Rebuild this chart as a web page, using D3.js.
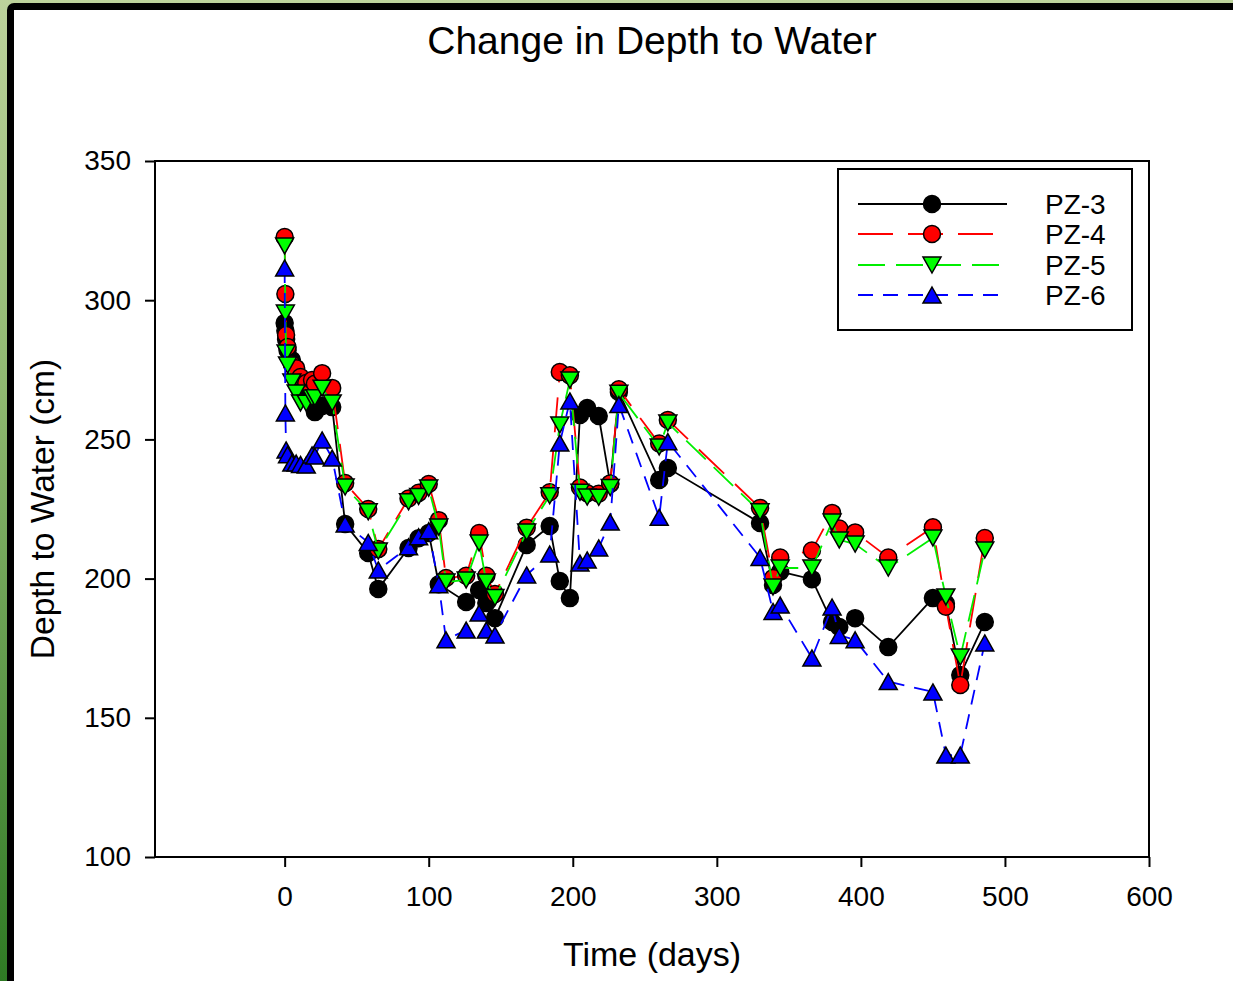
<!DOCTYPE html>
<html><head><meta charset="utf-8">
<script src="https://cdn.jsdelivr.net/npm/d3@7/dist/d3.min.js"></script>
<style>
html,body{margin:0;padding:0;}
body{width:1233px;height:981px;overflow:hidden;background:linear-gradient(to bottom,#bdd39c 0%,#8fb870 40%,#2f7a24 100%);}
svg{display:block;}
text{font-family:"Liberation Sans",Arial,sans-serif;fill:#000;}
</style></head>
<body>
<svg id="chart" width="1233" height="981"></svg>
<script>
const days = [0,0.5,1,2,5,8,11,15,19,21,26,33,42,58,65,86,93,100,107,112,126,135,140,146,168,184,191,198,205,210,218,226,232,260,266,330,339,344,366,380,385,396,419,450,459,469,486];
const pz3 = [291.8,289,286,282,278.5,274,270,266,264,259.8,262,261.6,219.6,209.2,196.3,211,214.5,216.4,198,null,191.6,195.9,191.2,185.8,212.1,218.9,199.1,193.0,258.8,261.3,258.4,234,267,235.4,239.7,220.0,197.7,202.5,199.8,184.4,182.6,185.8,175.4,193.0,191,165.4,184.4];
const pz4 = [322.7,302.2,287.5,283.2,277,275.6,272.4,270.3,271.3,270,273.8,268.5,234.3,225,210.6,228.8,230.8,234,221,200.2,201,216.4,201,194.5,218.3,231,274.2,273,232.7,230.7,230.5,234.2,268,248.5,257,225.4,200.2,207.6,210.1,223.6,218,216.6,207.6,218.4,189.9,161.8,214.6];
const pz5 = [319.5,295.4,281.0,276.7,270.6,266.7,263.1,263,264.9,265,268.4,263.1,232.9,224,209.9,227.6,229.5,232.5,218.5,198.8,199.5,212.8,198.8,193.2,216.7,229.8,255.2,271.3,231,229.3,229.2,232.7,266.6,247.3,255.9,224,197,203.8,203.8,220.3,213.9,212.4,203.8,214.6,193.4,171.8,210.3];
const pz6 = [311.6,259.5,246.2,244.5,241.5,241.5,241,240.8,244.4,244,249.8,243.3,219.6,213,203.1,211.4,215,217.2,197.8,178,181.5,187.6,181.5,179.7,201.3,208.8,248.7,263.8,205.6,206.7,211,220.3,262.5,222,249.2,207.6,188.2,190.5,171.5,189.8,179.6,178,163,159.3,136.6,136.6,176.9];
const seriesNames = ["PZ-3","PZ-4","PZ-5","PZ-6"];
const xTicks = [0,100,200,300,400,500,600];
const yTicks = [100,150,200,250,300,350];

const styles = [
  {color:"#000000", fill:"#000000", dash:null, symbol:"circle"},
  {color:"#ff0000", fill:"#ff0000", dash:"35,15", symbol:"circle"},
  {color:"#00ee00", fill:"#00ff00", dash:"27,11", symbol:"down"},
  {color:"#0000ff", fill:"#0000ff", dash:"15,10", symbol:"up"}
];
const allValues = [pz3,pz4,pz5,pz6];

const svg = d3.select("#chart");
// frame
svg.append("rect").attr("x",7).attr("y",3).attr("width",1300).attr("height",1100).attr("rx",7).attr("fill","#000");
svg.append("rect").attr("x",14).attr("y",10).attr("width",1300).attr("height",1100).attr("fill","#fff");

const L=155,R=1149,T=161,B=857;
const x = d3.scaleLinear().domain([-90,600]).range([L,R]);
const y = d3.scaleLinear().domain([100,350]).range([B,T]);

svg.append("text").attr("x",652).attr("y",54).attr("text-anchor","middle").attr("font-size",39).text("Change in Depth to Water");
svg.append("text").attr("x",652).attr("y",966).attr("text-anchor","middle").attr("font-size",34).text("Time (days)");
svg.append("text").attr("transform","translate(54,509) rotate(-90)").attr("text-anchor","middle").attr("font-size",33.5).text("Depth to Water (cm)");

const xAxis = svg.append("g").attr("transform",`translate(0,${B})`)
  .call(d3.axisBottom(x).tickValues(xTicks).tickSize(10).tickSizeOuter(0).tickPadding(19).tickFormat(d3.format("d")));
const yAxis = svg.append("g").attr("transform",`translate(${L},0)`)
  .call(d3.axisLeft(y).tickValues(yTicks).tickSize(10).tickSizeOuter(0).tickPadding(14).tickFormat(d3.format("d")));
[xAxis,yAxis].forEach(a=>{
  a.select(".domain").remove();
  a.selectAll(".tick line").attr("stroke","#000").attr("stroke-width",2);
  a.selectAll(".tick text").attr("font-size",28).attr("font-family","Liberation Sans, Arial, sans-serif").attr("fill","#000");
});
svg.append("rect").attr("x",L).attr("y",T).attr("width",R-L).attr("height",B-T).attr("fill","none").attr("stroke","#000").attr("stroke-width",2);

function symbolPath(sym){
  if(sym==="up") return "M0,-8L9,8L-9,8Z";
  if(sym==="down") return "M0,8L9,-8L-9,-8Z";
  return null;
}
function drawMarker(g, sym, fill, cx, cy){
  if(sym==="circle"){
    g.append("circle").attr("cx",cx).attr("cy",cy).attr("r",8.5).attr("fill",fill).attr("stroke","#000").attr("stroke-width",1.5);
  } else {
    g.append("path").attr("d",symbolPath(sym)).attr("transform",`translate(${cx},${cy})`).attr("fill",fill).attr("stroke","#000").attr("stroke-width",1.5).attr("stroke-linejoin","miter");
  }
}

const line = d3.line().x(d=>x(d[0])).y(d=>y(d[1]));
allValues.forEach((vals,i)=>{
  const st = styles[i];
  const pts = days.map((d,k)=>[d,vals[k]]).filter(p=>p[1]!==null);
  const g = svg.append("g");
  g.append("path").datum(pts).attr("d",line).attr("fill","none").attr("stroke",st.color).attr("stroke-width",1.8)
    .attr("stroke-dasharray",st.dash);
  pts.forEach(p=>drawMarker(g, st.symbol, st.fill, x(p[0]), y(p[1])));
});

// legend
const lg = svg.append("g");
lg.append("rect").attr("x",838).attr("y",169).attr("width",294).attr("height",161).attr("fill","#fff").attr("stroke","#000").attr("stroke-width",2);
const rowY = [204,234,265,295];
seriesNames.forEach((name,i)=>{
  const st = styles[i];
  lg.append("line").attr("x1",858).attr("x2",1007).attr("y1",rowY[i]).attr("y2",rowY[i])
    .attr("stroke",st.color).attr("stroke-width",1.8).attr("stroke-dasharray",st.dash);
  drawMarker(lg, st.symbol, st.fill, 932, rowY[i]);
  lg.append("text").attr("x",1045).attr("y",rowY[i]+10).attr("font-size",28).text(name);
});
</script>
</body></html>
